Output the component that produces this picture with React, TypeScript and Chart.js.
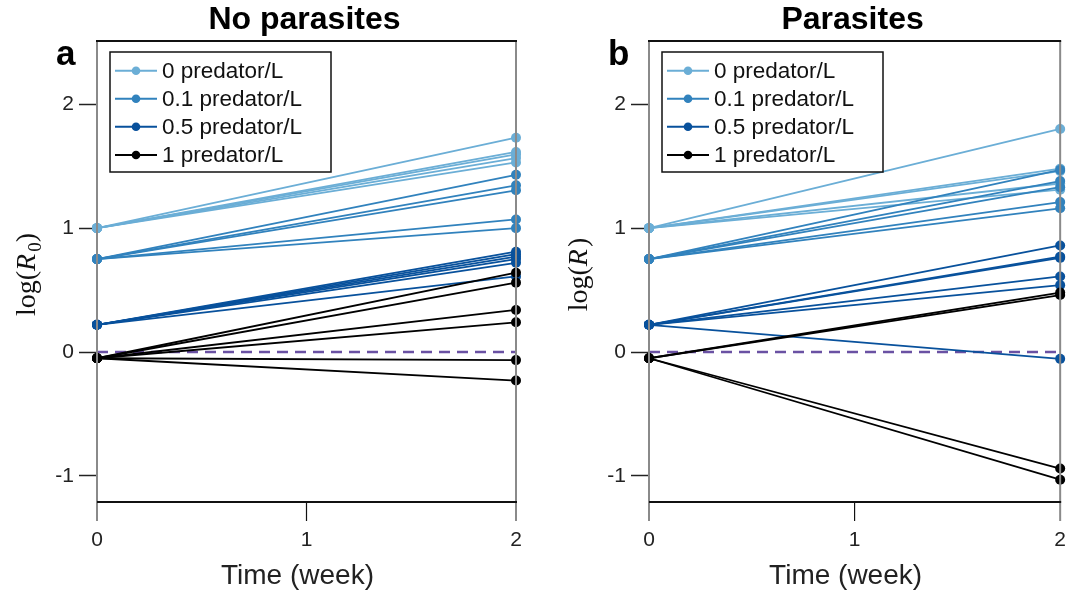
import React, { useEffect, useRef } from "react";
import { Chart, registerables } from "chart.js";

Chart.register(...registerables);

// ---- data ----
const timeWeeks = [0, 2];
const groupLabels = ["0 predator/L", "0.1 predator/L", "0.5 predator/L", "1 predator/L"];
const groupColors = ["#6BAED6", "#3182BD", "#08519C", "#000000"];
const yTickValues = [-1, 0, 1, 2];
const xTickValues = [0, 1, 2];

// log(R) at week 0, per predator group
const startNoParasites = [1.0, 0.75, 0.22, -0.05];
const startParasites = [1.0, 0.75, 0.22, -0.05];

// log(R) at week 2, per replicate
const noParEnd0 = [1.73, 1.615, 1.595, 1.565, 1.53];
const noParEnd01 = [1.43, 1.345, 1.305, 1.07, 1.0];
const noParEnd05 = [0.81, 0.79, 0.77, 0.75, 0.72, 0.61];
const noParEnd1 = [0.64, 0.56, 0.34, 0.24, -0.065, -0.23];

const parEnd0 = [1.8, 1.48, 1.46, 1.36, 1.31];
const parEnd01 = [1.47, 1.38, 1.33, 1.21, 1.16];
const parEnd05 = [0.86, 0.77, 0.76, 0.61, 0.54, -0.055];
const parEnd1 = [0.48, 0.46, -0.94, -1.03];

const yMin = -1.21;
const yMax = 2.51;
const refLineY = 0;

const SANS = "'Liberation Sans', Arial, sans-serif";
const SERIF = "'Liberation Serif', 'Times New Roman', serif";

type PanelCfg = {
  title: string;
  letter: string;
  ySub: string | null;
  start: number[];
  ends: number[][];
  width: number;
  left: number;
  rightPad: number;
};

const panels: PanelCfg[] = [
  {
    title: "No parasites",
    letter: "a",
    ySub: "0",
    start: startNoParasites,
    ends: [noParEnd0, noParEnd01, noParEnd05, noParEnd1],
    width: 552,
    left: 0,
    rightPad: 36,
  },
  {
    title: "Parasites",
    letter: "b",
    ySub: null,
    start: startParasites,
    ends: [parEnd0, parEnd01, parEnd05, parEnd1],
    width: 521,
    left: 552,
    rightPad: 5,
  },
];

function makeDecor(cfg: PanelCfg) {
  return {
    id: "decor",
    afterDatasetsDraw(chart: any) {
      const { ctx, chartArea } = chart;
      const { left, right, top, bottom } = chartArea;
      const xs = chart.scales.x;
      const x0 = xs.getPixelForValue(0);
      const x1 = xs.getPixelForValue(1);
      const x2 = xs.getPixelForValue(2);
      ctx.save();
      ctx.strokeStyle = "#8a8a8a";
      ctx.lineWidth = 2;
      ctx.beginPath();
      ctx.moveTo(x0, top);
      ctx.lineTo(x0, bottom + 19);
      ctx.moveTo(x2, top);
      ctx.lineTo(x2, bottom + 19);
      ctx.stroke();
      ctx.strokeStyle = "#111";
      ctx.lineWidth = 2;
      ctx.beginPath();
      ctx.moveTo(left - 1, top);
      ctx.lineTo(right + 1, top);
      ctx.moveTo(left, bottom);
      ctx.lineTo(right + 1, bottom);
      ctx.stroke();
      ctx.lineWidth = 1.2;
      ctx.beginPath();
      ctx.moveTo(x1, bottom);
      ctx.lineTo(x1, bottom + 19);
      ctx.stroke();
      ctx.restore();
    },
    afterDraw(chart: any) {
      const { ctx, chartArea } = chart;
      const { left, right, top, bottom } = chartArea;
      const cx = (left + right) / 2;
      ctx.save();
      ctx.fillStyle = "#000";
      ctx.font = `bold 32px ${SANS}`;
      ctx.textAlign = "center";
      ctx.textBaseline = "alphabetic";
      ctx.fillText(cfg.title, cx - 2, 29);
      ctx.font = `bold 35px ${SANS}`;
      ctx.textAlign = "left";
      ctx.fillText(cfg.letter, left - 41, 65);
      ctx.font = `28px ${SANS}`;
      ctx.fillStyle = "#222";
      ctx.textAlign = "center";
      ctx.fillText("Time (week)", cx - 9, 584);
      const big = `28px ${SERIF}`;
      const bigIt = `italic 28px ${SERIF}`;
      const sub = `19px ${SERIF}`;
      const pieces: [string, string, number][] = [
        ["log(", big, 0],
        ["R", bigIt, 0],
      ];
      if (cfg.ySub) pieces.push([cfg.ySub, sub, 6]);
      pieces.push([")", big, 0]);
      let total = 0;
      const widths = pieces.map(([t, f]) => {
        ctx.font = f;
        const w = ctx.measureText(t).width + (t === "R" ? 2 : 0);
        total += w;
        return w;
      });
      ctx.translate(left - 62, (top + bottom) / 2 + 3);
      ctx.rotate(-Math.PI / 2);
      ctx.textAlign = "left";
      ctx.fillStyle = "#111";
      let px = -total / 2;
      pieces.forEach(([t, f, dy], i) => {
        ctx.font = f;
        ctx.fillText(t, px, dy);
        px += widths[i];
      });
      ctx.restore();

      ctx.save();
      const bx = left + 13;
      const by = 52;
      const bw = 221;
      const bh = 120;
      ctx.fillStyle = "#fff";
      ctx.fillRect(bx, by, bw, bh);
      ctx.strokeStyle = "#111";
      ctx.lineWidth = 1.5;
      ctx.strokeRect(bx, by, bw, bh);
      const rows = [70.7, 98.8, 126.8, 155];
      groupLabels.forEach((lab, i) => {
        const y = rows[i];
        ctx.strokeStyle = groupColors[i];
        ctx.fillStyle = groupColors[i];
        ctx.lineWidth = 2;
        ctx.beginPath();
        ctx.moveTo(bx + 5, y);
        ctx.lineTo(bx + 47, y);
        ctx.stroke();
        ctx.beginPath();
        ctx.arc(bx + 26, y, 4.3, 0, Math.PI * 2);
        ctx.fill();
        ctx.fillStyle = "#111";
        ctx.font = `22.5px ${SANS}`;
        ctx.textAlign = "left";
        ctx.textBaseline = "middle";
        ctx.fillText(lab, bx + 52, y + 1);
      });
      ctx.restore();
    },
  };
}

function buildDatasets(cfg: PanelCfg) {
  const ds: any[] = [];
  ds.push({
    data: [
      { x: timeWeeks[0], y: refLineY },
      { x: timeWeeks[1], y: refLineY },
    ],
    borderColor: "#6A51A3",
    borderWidth: 2.5,
    borderDash: [11, 7],
    pointRadius: 0,
    order: 10,
    clip: false,
  });
  cfg.ends.forEach((ends, g) => {
    ends.forEach((e) => {
      ds.push({
        data: [
          { x: timeWeeks[0], y: cfg.start[g] },
          { x: timeWeeks[1], y: e },
        ],
        borderColor: groupColors[g],
        backgroundColor: groupColors[g],
        borderWidth: 1.8,
        pointRadius: 5,
        pointBorderWidth: 0,
        pointHoverRadius: 5,
        order: 5 - g,
        clip: false,
      });
    });
  });
  return ds;
}

function Panel({ cfg }: { cfg: PanelCfg }) {
  const ref = useRef<HTMLCanvasElement>(null);
  useEffect(() => {
    const chart = new Chart(ref.current as HTMLCanvasElement, {
      type: "line",
      data: { datasets: buildDatasets(cfg) },
      options: {
        animation: false,
        responsive: false,
        devicePixelRatio: 1,
        layout: { padding: { top: 41, right: cfg.rightPad, left: 0, bottom: 0 } },
        plugins: { legend: { display: false }, tooltip: { enabled: false }, title: { display: false } },
        scales: {
          x: {
            type: "linear",
            min: 0,
            max: 2,
            afterBuildTicks: (s: any) => {
              s.ticks = xTickValues.map((v) => ({ value: v }));
            },
            afterFit: (s: any) => {
              s.height = 96;
            },
            ticks: {
              font: { size: 21, family: SANS },
              color: "#222",
              padding: 7,
              maxRotation: 0,
              autoSkip: false,
              callback: (v: any) => String(v),
            },
            grid: { drawOnChartArea: false, drawTicks: true, tickLength: 19, color: "rgba(0,0,0,0)" },
            border: { display: false },
          },
          y: {
            type: "linear",
            min: yMin,
            max: yMax,
            afterBuildTicks: (s: any) => {
              s.ticks = yTickValues.map((v) => ({ value: v }));
            },
            afterFit: (s: any) => {
              s.width = 97;
            },
            ticks: {
              font: { size: 21, family: SANS },
              color: "#222",
              padding: 5,
              autoSkip: false,
              callback: (v: any) => String(v),
            },
            grid: { drawOnChartArea: false, drawTicks: true, tickLength: 18, tickColor: "#222", tickWidth: 1.5 },
            border: { display: false },
          },
        },
      },
      plugins: [makeDecor(cfg)],
    } as any);
    return () => chart.destroy();
  }, [cfg]);
  return (
    <canvas
      ref={ref}
      width={cfg.width}
      height={598}
      style={{ position: "absolute", left: cfg.left, top: 0, width: cfg.width, height: 598 }}
    />
  );
}

export default function App() {
  return (
    <div style={{ position: "fixed", left: 0, top: 0, width: 1073, height: 598, background: "#fff", overflow: "hidden" }}>
      {panels.map((p) => (
        <Panel key={p.letter} cfg={p} />
      ))}
    </div>
  );
}
